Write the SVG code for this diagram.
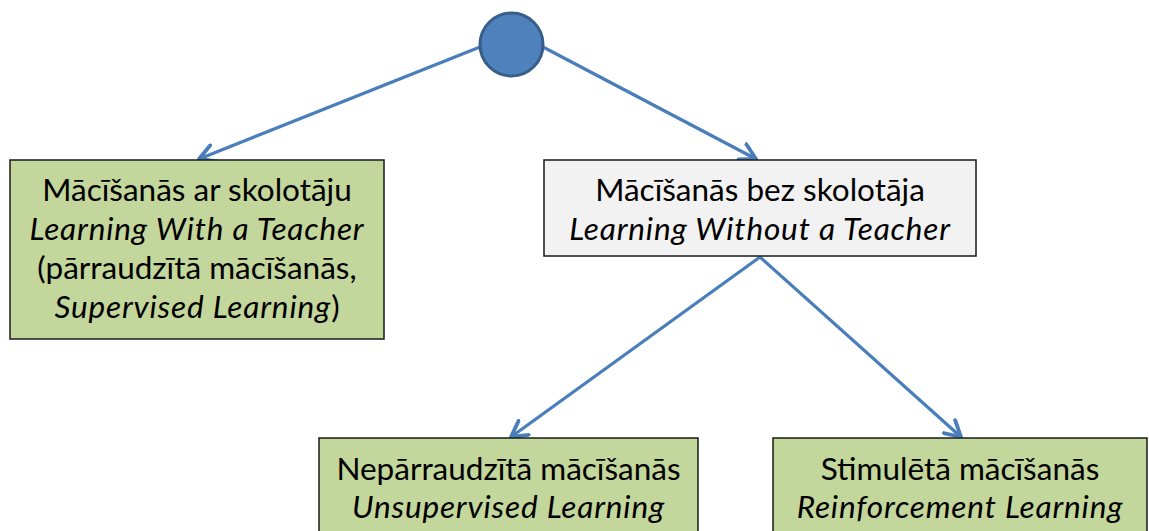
<svg xmlns="http://www.w3.org/2000/svg" width="1149" height="531" viewBox="0 0 1149 531">
<style>
.box{stroke:#1a1a1a;stroke-width:1.5}
.green{fill:#c3d69b}
.grey{fill:#f2f2f2}
.t{font-family:Lato,"Open Sans",sans-serif;font-size:31.5px;fill:#000;text-anchor:middle}
.i{font-style:italic;letter-spacing:0.85px}
.conn{stroke:#4a7ebb;stroke-width:3.2;fill:none;marker-end:url(#open)}
</style>
<defs>
<marker id="open" viewBox="0 0 12 12" refX="10" refY="6" markerWidth="6.5" markerHeight="6.5" markerUnits="strokeWidth" orient="auto">
<path d="M1,1 L10,6 L1,11" fill="none" stroke="#4a7ebb" stroke-width="2.2" stroke-linecap="round" stroke-linejoin="round"/>
</marker>
</defs>
<rect width="1149" height="531" fill="#fff"/>
<g id="connectors">
<line class="conn" x1="480" y1="47" x2="199" y2="159"/>
<line class="conn" x1="543" y1="47" x2="756" y2="159"/>
<line class="conn" x1="760" y1="257" x2="511" y2="437"/>
<line class="conn" x1="760" y1="257" x2="961" y2="437"/>
</g>
<g id="root">
<circle cx="511.5" cy="44.5" r="31.5" fill="#4f81bd" stroke="#385d8a" stroke-width="3"/>
</g>
<g id="supervised">
<rect class="box green" x="10" y="160" width="374" height="179"/>
<text class="t" x="197" y="201">Mācīšanās ar skolotāju</text>
<text class="t i" x="197" y="240">Learning With a Teacher</text>
<text class="t" x="197" y="279">(pārraudzītā mācīšanās,</text>
<text class="t" x="197" y="318"><tspan class="i">Supervised Learning</tspan>)</text>
</g>
<g id="without-teacher">
<rect class="box grey" x="544" y="160" width="432" height="96"/>
<text class="t" x="760" y="201">Mācīšanās bez skolotāja</text>
<text class="t i" x="760" y="240">Learning Without a Teacher</text>
</g>
<g id="unsupervised">
<rect class="box green" x="319" y="438" width="379" height="100"/>
<text class="t" x="508.5" y="480">Nepārraudzītā mācīšanās</text>
<text class="t i" x="508.5" y="518">Unsupervised Learning</text>
</g>
<g id="reinforcement">
<rect class="box green" x="773" y="438" width="374" height="100"/>
<text class="t" x="960" y="480">Stimulētā mācīšanās</text>
<text class="t i" x="960" y="518">Reinforcement Learning</text>
</g>
</svg>
